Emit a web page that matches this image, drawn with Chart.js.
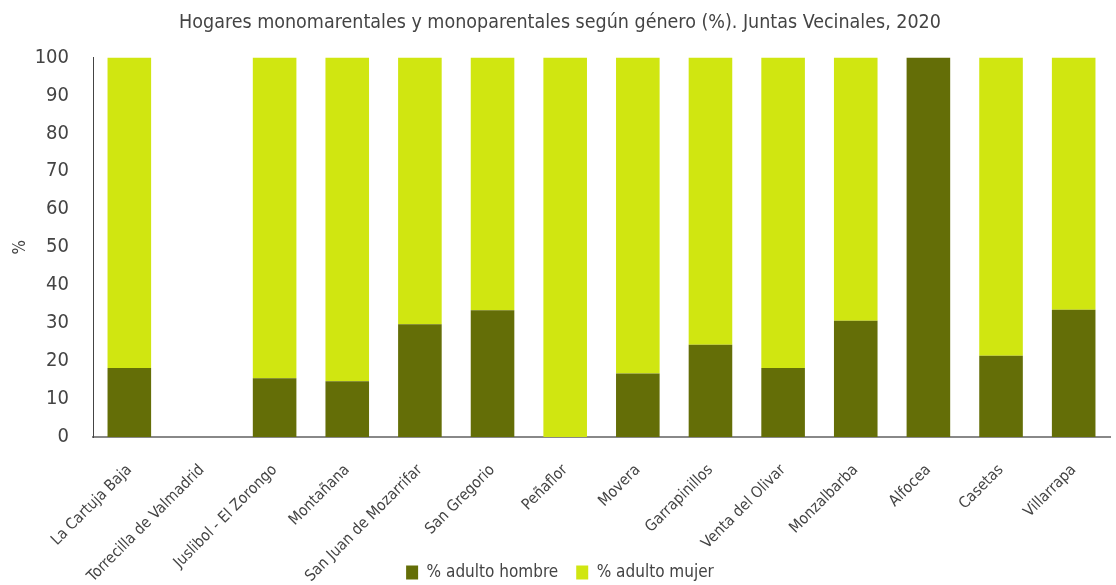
<!DOCTYPE html>
<html>
<head>
<meta charset="utf-8">
<script src="https://cdn.jsdelivr.net/npm/chart.js@4"></script>
<style>
html,body{margin:0;padding:0;background:#fff;}
#wrap{width:1116px;height:585px;position:relative;}
</style>
</head>
<body>
<div id="wrap"><canvas id="c" width="1116" height="585"></canvas></div>
<script>
const categories = ["La Cartuja Baja","Torrecilla de Valmadrid","Juslibol - El Zorongo","Montañana","San Juan de Mozarrifar","San Gregorio","Peñaflor","Movera","Garrapinillos","Venta del Olivar","Monzalbarba","Alfocea","Casetas","Villarrapa"];
const hombre = [18.2, 0, 15.5, 14.7, 29.7, 33.4, 0, 16.7, 24.3, 18.2, 30.6, 100, 21.4, 33.5];
const mujer  = [81.8, 0, 84.5, 85.3, 70.3, 66.6, 100, 83.3, 75.7, 81.8, 69.4, 0, 78.6, 66.5];
const yTicks = [0,10,20,30,40,50,60,70,80,90,100];

const FONT = "'DejaVu Sans Condensed','Liberation Sans Narrow',sans-serif";
Chart.defaults.font.family = FONT;
Chart.defaults.color = '#444';

new Chart(document.getElementById('c'), {
  type: 'bar',
  data: {
    labels: categories,
    datasets: [
      {label: '% adulto hombre', data: hombre, backgroundColor: '#646E07', categoryPercentage: 0.6, barPercentage: 1.0},
      {label: '% adulto mujer', data: mujer, backgroundColor: '#D0E611', categoryPercentage: 0.6, barPercentage: 1.0}
    ]
  },
  options: {
    responsive: false,
    animation: false,
    layout: {padding: {left: 10, right: 6, top: 0, bottom: -6}},
    plugins: {
      title: {display: true, text: 'Hogares monomarentales y monoparentales según género (%). Juntas Vecinales, 2020',
        font: {size: 19.5, weight: 'normal'}, color: '#444', padding: {top: 11, bottom: 23}},
      legend: {position: 'bottom', labels: {boxWidth: 12, boxHeight: 14, font: {size: 17}, color: '#444', padding: 18}},
      tooltip: {enabled: false}
    },
    scales: {
      x: {
        stacked: true,
        grid: {display: false, drawTicks: false},
        border: {display: true, color: '#888', width: 2},
        ticks: {maxRotation: 45, minRotation: 45, font: {size: 15.5}, color: '#444', padding: 24, autoSkip: false},
        afterFit: (s) => { s.height = 109; s._computeLabelArea = () => undefined; }
      },
      y: {
        stacked: true,
        min: 0, max: 100,
        afterBuildTicks: (s) => { s.ticks = yTicks.map(v => ({value: v})); },
        grid: {display: false, drawTicks: false},
        border: {display: true, color: '#444', width: 1},
        ticks: {font: {size: 20}, color: '#444', padding: 24},
        title: {display: true, text: '%', font: {size: 17}, color: '#444', padding: 0},
        afterFit: (s) => { s.width = 83; }
      }
    }
  }
});
</script>
</body>
</html>
